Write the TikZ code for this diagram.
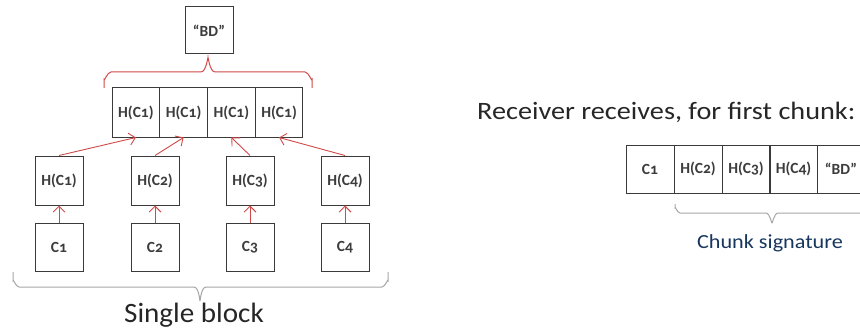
\documentclass[tikz,border=0pt]{standalone}
\usepackage{fontspec}
\usepackage{graphicx}
\setmainfont{Carlito}[Numbers=OldStyle]
\usetikzlibrary{arrows.meta}
\definecolor{boxline}{HTML}{3A3A3A}
\definecolor{boxtext}{HTML}{3C3C3C}
\definecolor{hashred}{HTML}{D04848}
\definecolor{bracegray}{HTML}{A6A6A6}
\definecolor{navy}{HTML}{17365D}
\tikzset{
  cell/.style={draw=boxline, line width=1pt, minimum width=48pt, minimum height=48pt,
    inner sep=0pt, text=boxtext, font=\fontsize{15.5}{15.5}\selectfont\bfseries},
  hasharrow/.style={draw=hashred, line width=0.9pt,
    -{Straight Barb[length=6pt,width=12pt,line width=0.9pt]}},
  redbrace/.style={draw=hashred, line width=1pt},
  graybrace/.style={draw=bracegray, line width=1pt},
}
\begin{document}
\begin{tikzpicture}[x=1pt,y=-1pt]
\useasboundingbox (0,0) rectangle (860,329);

% block digest
\node[cell, minimum height=47pt] (bd) at (209,30.5) {``BD''};

% concatenated chunk hashes
\node[cell, minimum width=47.75pt, minimum height=49pt] (r1) at (135.9,112.5) {H(C1)};
\node[cell, minimum width=47.75pt, minimum height=49pt] (r2) at (183.6,112.5) {H(C1)};
\node[cell, minimum width=47.75pt, minimum height=49pt] (r3) at (231.4,112.5) {H(C1)};
\node[cell, minimum width=47.75pt, minimum height=49pt] (r4) at (279.1,112.5) {H(C1)};

% per-chunk hashes
\node[cell, minimum height=49pt] (h1) at (59,180.5) {H(C1)};
\node[cell, minimum height=49pt] (h2) at (155,180.5) {H(C2)};
\node[cell, minimum height=49pt] (h3) at (250,180.5) {H(C3)};
\node[cell, minimum height=49pt] (h4) at (345,180.5) {H(C4)};

% chunks
\node[cell] (c1) at (59,247) {C1};
\node[cell] (c2) at (155,247) {C2};
\node[cell] (c3) at (250,247) {C3};
\node[cell] (c4) at (345,247) {C4};

% hashing arrows
\foreach \i in {1,...,4} {
  \draw[hasharrow] (c\i.north) -- (h\i.south);
  \draw[hasharrow] (h\i.north) -- (r\i.south);
}

% brace joining the hashes into the block digest
\draw[redbrace] (104,88) -- (104,79) to[out=-90,in=180] (111,72) -- (201,72)
  to[out=0,in=90] (208,59) to[out=90,in=180] (215,72) -- (305,72)
  to[out=0,in=-90] (312,79) -- (312,88);

% brace under the whole block
\draw[graybrace] (13,272) -- (13,281) to[out=90,in=180] (19,287) -- (194,287)
  to[out=0,in=-90] (200,300) to[out=-90,in=180] (206,287) -- (382,287)
  to[out=0,in=90] (388,281) -- (388,272);
\node[text=black!85, font=\fontsize{28}{28}\selectfont, anchor=base] (single) at (194,322)
  {\scalebox{1.04}[1]{Single block}};

% what the receiver gets
\node[anchor=base west, text=black!85, font=\fontsize{25}{25}\selectfont, inner sep=0pt] (recv) at (477,119)
  {\scalebox{1.13}[1]{Receiver receives, for first chunk:}};

\node[cell] (s1) at (650,169) {C1};
\node[cell] (s2) at (698,169) {H(C2)};
\node[cell] (s3) at (746,169) {H(C3)};
\node[cell] (s4) at (793.5,169) {H(C4)};
\node[cell, minimum width=47pt] (s5) at (841,169) {``BD''};

\draw[graybrace] (675,204) -- (675,208) to[out=90,in=180] (680,213) -- (766,213)
  to[out=0,in=-90] (772,222) to[out=-90,in=180] (778,213) -- (864,213)
  to[out=0,in=90] (869,208) -- (869,204);
\node[text=navy, font=\fontsize{20}{20}\selectfont, anchor=base] (sig) at (770,248)
  {\scalebox{1.11}[1]{Chunk signature}};
\end{tikzpicture}
\end{document}
